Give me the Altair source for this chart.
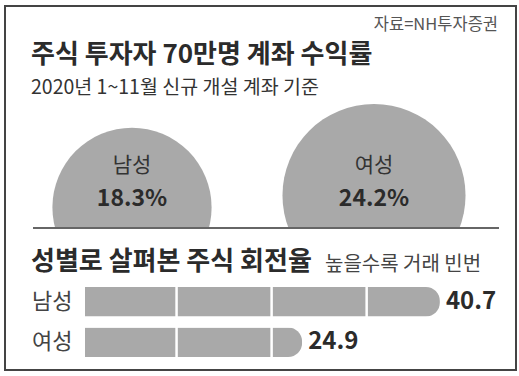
import altair as alt
import pandas as pd

# ---- data ----
source_text = "자료=NH투자증권"
title_text = "주식 투자자 70만명 계좌 수익률"
subtitle_text = "2020년 1~11월 신규 개설 계좌 기준"
section2_title = "성별로 살펴본 주식 회전율"
section2_note = "높을수록 거래 빈번"

genders = ["남성", "여성"]
returns_pct = [18.3, 24.2]          # 계좌 수익률 (%)
turnover = [40.7, 24.9]             # 회전율
segment_marks = [10.5, 21.4, 32.3]  # white dividers inside the bars

KR = "Noto Sans CJK KR"
NUM = "Noto Sans CJK KR"
GRAY = "#a9a9a9"
DARK = "#2b2b2b"

W, H = 519, 376
K = 1385          # px^2 of symbol size per % point
BOTTOM = 287      # circles rest on this line, cut at the baseline

circ_df = pd.DataFrame({"gender": genders, "ret": returns_pct})
circ_df["label"] = [f"{v}%" for v in returns_pct]
bar_df = pd.DataFrame({"gender": genders, "turnover": turnover})
sep_df = pd.DataFrame(
    [{"gender": g, "sep": s, "turnover": t} for g, t in zip(genders, turnover) for s in segment_marks]
)
one = pd.DataFrame({"a": [0]})


def txt(t, x, y, size, weight="normal", color=DARK, align="left", font=KR):
    return alt.Chart(pd.DataFrame({"t": [t]})).mark_text(
        align=align, baseline="middle", fontSize=size, fontWeight=weight, color=color, font=font
    ).encode(text="t:N", x=alt.value(x), y=alt.value(y))


circ_x = alt.Scale(type="point", domain=genders, range=[132, 374], padding=0)
bar_x = alt.Scale(domain=[0, 50], range=[85, 85 + 50 * 8.72])
bar_y = alt.Scale(type="band", domain=genders, range=[287, 357], paddingInner=0.27, paddingOuter=0)

frame = alt.Chart(one).mark_rect(fillOpacity=0, stroke="#444", strokeWidth=2).encode(
    x=alt.value(5), x2=alt.value(516), y=alt.value(6), y2=alt.value(370)
)

circles = alt.Chart(circ_df).transform_calculate(
    cy=f"{BOTTOM} - sqrt(datum.ret * {K}) / 2"
).mark_circle(color=GRAY, opacity=1).encode(
    x=alt.X("gender:N", scale=circ_x, axis=None),
    y=alt.Y("cy:Q", scale=None, axis=None),
    size=alt.Size("ret:Q", scale=alt.Scale(domain=[0, 30], range=[0, 30 * K]), legend=None),
)

cover = alt.Chart(one).mark_rect(color="white").encode(
    x=alt.value(10), x2=alt.value(509), y=alt.value(228), y2=alt.value(292)
)
baseline = alt.Chart(one).mark_rule(color="#666", strokeWidth=2).encode(
    x=alt.value(33), x2=alt.value(499), y=alt.value(228)
)

circ_names = alt.Chart(circ_df).mark_text(fontSize=21, font=KR, color="#333", baseline="middle").encode(
    x=alt.X("gender:N", scale=circ_x, axis=None), y=alt.value(166), text="gender:N"
)
circ_vals = alt.Chart(circ_df).mark_text(fontSize=23, font=NUM, fontWeight="bold", color=DARK, baseline="middle").encode(
    x=alt.X("gender:N", scale=circ_x, axis=None), y=alt.value(199), text="label:N"
)

bars = alt.Chart(bar_df).mark_bar(color=GRAY, cornerRadiusEnd=14).encode(
    x=alt.X("turnover:Q", scale=bar_x, axis=None),
    y=alt.Y("gender:N", scale=bar_y, axis=None),
)
seps = alt.Chart(sep_df).transform_filter("datum.sep < datum.turnover").mark_tick(
    color="white", thickness=2.5, size=32, orient="vertical", opacity=1
).encode(
    x=alt.X("sep:Q", scale=bar_x, axis=None),
    y=alt.Y("gender:N", scale=bar_y, axis=None),
)
bar_names = alt.Chart(bar_df).mark_text(fontSize=22, font=KR, color="#444", align="left", baseline="middle").encode(
    x=alt.value(32), y=alt.Y("gender:N", scale=bar_y, axis=None), text="gender:N"
)
bar_vals = alt.Chart(bar_df).mark_text(fontSize=24, font=NUM, fontWeight="bold", color=DARK, align="left",
                                       baseline="middle", dx=6).encode(
    x=alt.X("turnover:Q", scale=bar_x, axis=None),
    y=alt.Y("gender:N", scale=bar_y, axis=None),
    text=alt.Text("turnover:Q", format=".1f"),
)

chart = alt.layer(
    frame, circles, cover, baseline, circ_names, circ_vals,
    bars, seps, bar_names, bar_vals,
    txt(source_text, 498, 25, 16.5, color="#555", align="right"),
    txt(title_text, 31, 55, 26, weight="bold"),
    txt(subtitle_text, 31, 88, 19.5, color="#333"),
    txt(section2_title, 31, 262, 26, weight="bold"),
    txt(section2_note, 325, 265, 20, color="#444"),
).resolve_scale(x="independent", y="independent", size="independent").properties(
    width=W, height=H, padding=0, autosize="none", background="white"
).configure_view(stroke=None)

chart.save("out.html", embed_options={"renderer": "svg", "actions": False})
